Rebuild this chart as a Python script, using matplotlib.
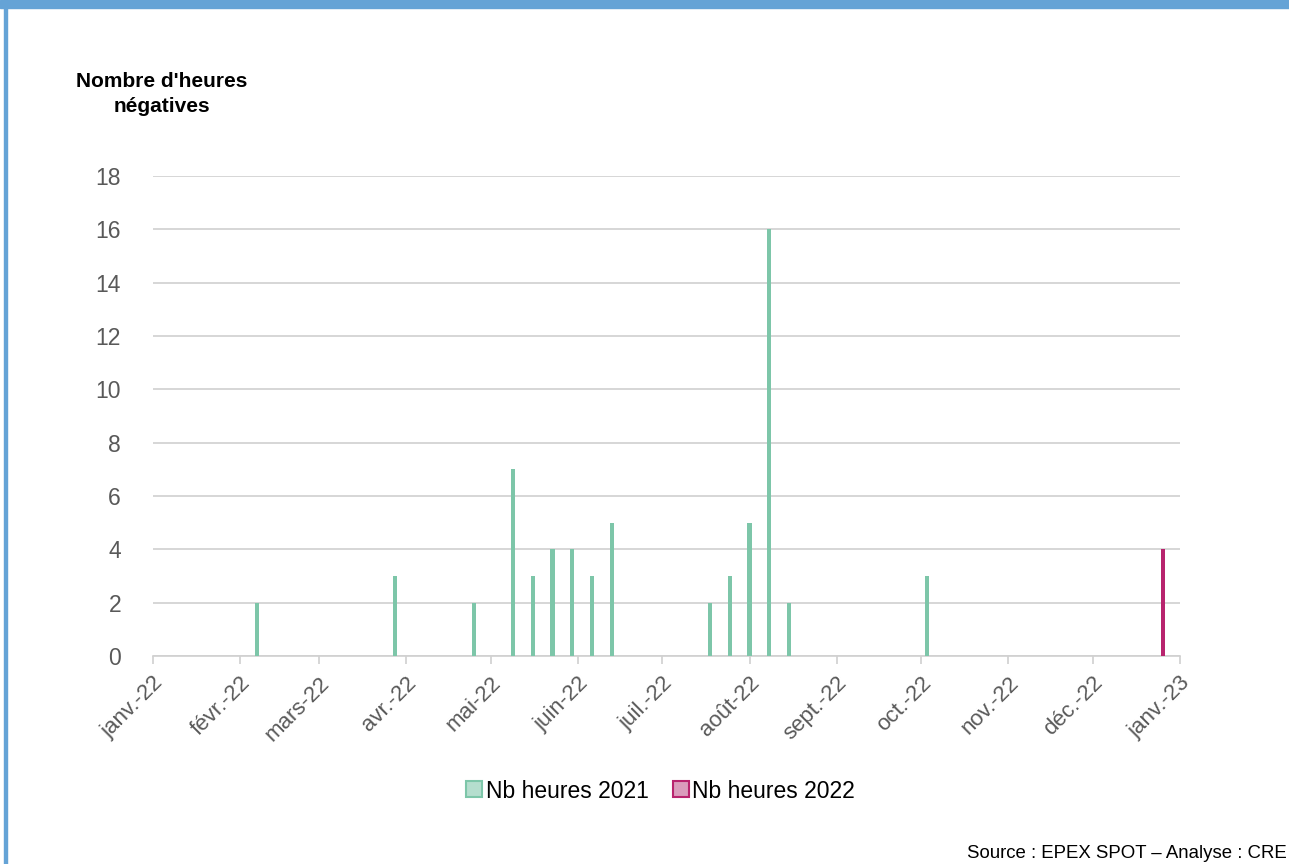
import matplotlib
matplotlib.use("Agg")
import matplotlib.pyplot as plt
from matplotlib.patches import Rectangle
from matplotlib.lines import Line2D
import datetime as dt

plt.rcParams['font.family'] = ['Liberation Sans', 'DejaVu Sans']

# Data (weekly counts of negative-price hours)
weeks_2021 = ["2022-02-07", "2022-03-28", "2022-04-25", "2022-05-09", "2022-05-16",
              "2022-05-23", "2022-05-30", "2022-06-06", "2022-06-13", "2022-07-18",
              "2022-07-25", "2022-08-01", "2022-08-08", "2022-08-15", "2022-10-03"]
hours_2021 = [2, 3, 2, 7, 3, 4, 4, 3, 5, 2, 3, 5, 16, 2, 3]
weeks_2022 = ["2022-12-26"]
hours_2022 = [4]

month_labels = ["janv.-22", "févr.-22", "mars-22", "avr.-22", "mai-22", "juin-22",
                "juil.-22", "août-22", "sept.-22", "oct.-22", "nov.-22", "déc.-22", "janv.-23"]
y_ticks = [0, 2, 4, 6, 8, 10, 12, 14, 16, 18]

green = "#7DC6A9"
magenta = "#B8246E"
grid_col = "#D0D0D0"
tick_col = "#595959"

fig = plt.figure(figsize=(12.89, 8.64), dpi=100)

# Banner and left border
fig.patches.append(Rectangle((0, 1 - 8/864), 1, 8/864, transform=fig.transFigure,
                             color="#65A3D6", zorder=0))
fig.patches.append(Rectangle((4/1289, 0), 3/1289, 1, transform=fig.transFigure,
                             color="#65A3D6", zorder=0))

ax = fig.add_axes([153/1289, 1 - 656/864, (1180 - 153)/1289, (656 - 176)/864])

d21 = [dt.datetime.strptime(d, "%Y-%m-%d") for d in weeks_2021]
d22 = [dt.datetime.strptime(d, "%Y-%m-%d") for d in weeks_2022]
ax.bar(d21, hours_2021, width=1.5, color=green, zorder=3)
ax.bar(d22, hours_2022, width=1.5, color=magenta, zorder=3)

month_starts = [dt.datetime(2022, m, 1) for m in range(1, 13)] + [dt.datetime(2023, 1, 1)]
ax.set_xlim(month_starts[0], month_starts[-1])
ax.set_ylim(0, 18)
ax.set_xticks(month_starts)
ax.set_xticklabels(month_labels, rotation=45, ha="right", rotation_mode="anchor",
                   fontsize=16, color=tick_col)
ax.set_yticks(y_ticks)
ax.set_yticklabels([str(v) for v in y_ticks], fontsize=16.5, color=tick_col)

ax.tick_params(axis="y", length=0, pad=23)
ax.tick_params(axis="x", length=6, color=grid_col, width=1.2, pad=6)
ax.yaxis.grid(True, color=grid_col, linewidth=1.2, zorder=0)
ax.set_axisbelow(True)
for s in ["top", "right", "left"]:
    ax.spines[s].set_visible(False)
ax.spines["bottom"].set_color(grid_col)
ax.spines["bottom"].set_linewidth(1.2)

fig.text(162/1289, 1 - 94/864, "Nombre d'heures\nnégatives", ha="center", va="center",
         fontsize=15, fontweight="bold", color="black", linespacing=1.45)

handles = [Line2D([], [], marker="s", linestyle="none", markersize=11,
                  markerfacecolor="#B5DECE", markeredgecolor=green, markeredgewidth=1.5),
           Line2D([], [], marker="s", linestyle="none", markersize=11,
                  markerfacecolor="#DA9CBC", markeredgecolor=magenta, markeredgewidth=1.5)]
fig.legend(handles, ["Nb heures 2021", "Nb heures 2022"], loc="center",
           bbox_to_anchor=(660/1289, 1 - 791/864), ncol=2, frameon=False,
           fontsize=16.5, handletextpad=0.1, columnspacing=1.0, handlelength=0.8)

fig.text(967/1289, 1 - 853/864, "Source : EPEX SPOT – Analyse : CRE", ha="left",
         va="center", fontsize=13.4, color="black")

fig.savefig("out.png", dpi=100)
